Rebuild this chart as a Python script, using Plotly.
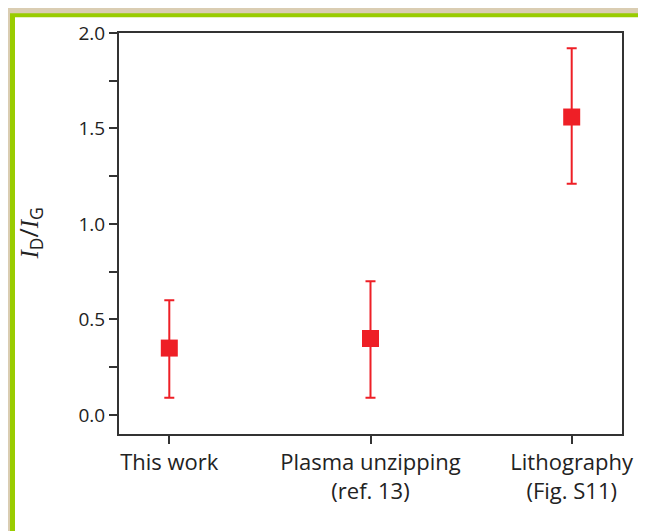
import plotly.graph_objects as go

categories = ["This work", "Plasma unzipping<br>(ref. 13)", "Lithography<br>(Fig. S11)"]
ratio = [0.35, 0.40, 1.56]
err_plus = [0.25, 0.30, 0.36]
err_minus = [0.26, 0.31, 0.35]

W, H = 646, 531
OFF = 8  # page offset observed in the rendering
L, T = 119 - OFF, 27 - OFF
R = W - (622 - OFF)
B = H - (434 - OFF)
pw, ph = W - L - R, H - T - B

def px(x):
    return (x - OFF - L) / pw

def py(y):
    return 1 - (y - OFF - T) / ph

red = "#ee1f26"
fig = go.Figure()
fig.add_trace(go.Scatter(
    x=[0, 1, 2], y=ratio, mode="markers",
    marker=dict(symbol="square", size=17, color=red),
    error_y=dict(type="data", symmetric=False, array=err_plus, arrayminus=err_minus,
                 color=red, thickness=2, width=5),
    showlegend=False, cliponaxis=False,
))

font_family = "Open Sans"
fig.update_layout(
    width=W, height=H,
    margin=dict(l=L, r=R, t=T, b=B),
    paper_bgcolor="#dacdb2",
    plot_bgcolor="white",
    font=dict(family=font_family, size=18, color="#222222"),
    shapes=[
        dict(type="rect", xref="paper", yref="paper", x0=px(10), x1=px(700), y0=py(7), y1=py(600),
             fillcolor="#99cc00", line=dict(width=0), layer="below"),
        dict(type="rect", xref="paper", yref="paper", x0=px(15), x1=px(700), y0=py(11), y1=py(600),
             fillcolor="white", line=dict(width=0), layer="below"),
    ],
    annotations=[
        dict(text="<span style=\"font-family:'Liberation Serif'\"><i>I</i></span><sub>D</sub>/"
                  "<span style=\"font-family:'Liberation Serif'\"><i>I</i></span><sub>G</sub>",
             xref="paper", yref="paper",
             x=px(29), y=0.5, textangle=-90, showarrow=False, xanchor="center", yanchor="middle",
             font=dict(size=25, color="#222222", family=font_family)),
    ],
)
fig.update_xaxes(
    range=[-0.25, 2.25], tickmode="array", tickvals=[0, 1, 2], ticktext=categories,
    tickfont=dict(size=22),
    showline=True, mirror=True, linecolor="#333333", linewidth=2,
    ticks="outside", ticklen=8, tickwidth=2, tickcolor="#333333",
    showgrid=False, zeroline=False,
)
fig.update_yaxes(
    range=[-0.1, 2.0], tickmode="array", tickvals=[0, 0.5, 1.0, 1.5, 2.0],
    ticktext=["0.0", "0.5", "1.0", "1.5", "2.0"],
    tickfont=dict(size=19),
    showline=True, mirror=True, linecolor="#333333", linewidth=2,
    ticks="outside", ticklen=8, tickwidth=2, tickcolor="#333333",
    minor=dict(tickvals=[0.25, 0.75, 1.25, 1.75], ticks="outside", ticklen=8, tickwidth=2, tickcolor="#333333"),
    showgrid=False, zeroline=False,
)
fig.write_html("out.html")
